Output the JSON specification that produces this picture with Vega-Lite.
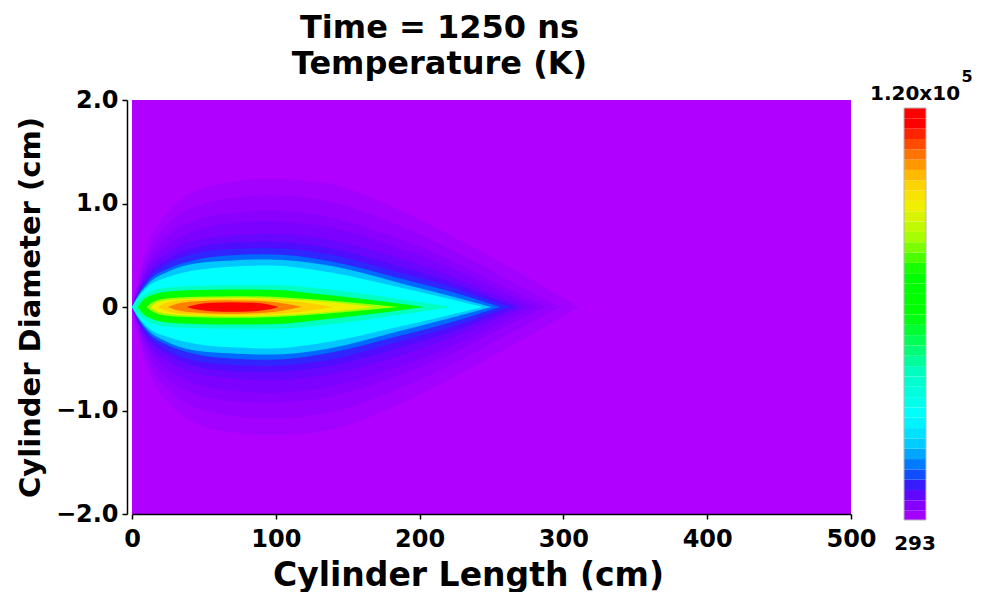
{
  "$schema": "https://vega.github.io/schema/vega-lite/v6.json",
  "background": "white",
  "padding": {"left": 15, "top": 12, "right": 5, "bottom": 0},
  "config": {
    "font": "DejaVu Sans",
    "view": {"stroke": null},
    "axis": {
      "labelFont": "DejaVu Sans", "labelFontWeight": "bold", "labelFontSize": 24, "labelColor": "black", "labelFlush": false,
      "titleFont": "DejaVu Sans", "titleFontWeight": "bold", "titleColor": "black",
      "domainColor": "black", "tickColor": "black", "domainWidth": 1.5, "tickWidth": 1.5, "tickSize": 5, "grid": false
    }
  },
  "datasets": {
    "plume": [
      {"l":1,"T":1729,"x":0,"hi":0,"lo":0},{"l":1,"T":1729,"x":3,"hi":0.2,"lo":-0.2},{"l":1,"T":1729,"x":11,"hi":0.6,"lo":-0.6},{"l":1,"T":1729,"x":25,"hi":0.92,"lo":-0.92},{"l":1,"T":1729,"x":44,"hi":1.12,"lo":-1.12},{"l":1,"T":1729,"x":70,"hi":1.21,"lo":-1.21},{"l":1,"T":1729,"x":95,"hi":1.24,"lo":-1.24},{"l":1,"T":1729,"x":137,"hi":1.19,"lo":-1.19},{"l":1,"T":1729,"x":184,"hi":0.95,"lo":-0.95},{"l":1,"T":1729,"x":230,"hi":0.63,"lo":-0.63},{"l":1,"T":1729,"x":276,"hi":0.28,"lo":-0.28},{"l":1,"T":1729,"x":311,"hi":0,"lo":0},
      {"l":2,"T":2927,"x":0,"hi":0,"lo":0},{"l":2,"T":2927,"x":3,"hi":0.17,"lo":-0.17},{"l":2,"T":2927,"x":11,"hi":0.52,"lo":-0.52},{"l":2,"T":2927,"x":25,"hi":0.8,"lo":-0.8},{"l":2,"T":2927,"x":44,"hi":0.97,"lo":-0.97},{"l":2,"T":2927,"x":70,"hi":1.05,"lo":-1.05},{"l":2,"T":2927,"x":95,"hi":1.08,"lo":-1.08},{"l":2,"T":2927,"x":137,"hi":1.02,"lo":-1.02},{"l":2,"T":2927,"x":184,"hi":0.8,"lo":-0.8},{"l":2,"T":2927,"x":230,"hi":0.5,"lo":-0.5},{"l":2,"T":2927,"x":270,"hi":0.2,"lo":-0.2},{"l":2,"T":2927,"x":298,"hi":0,"lo":0},
      {"l":3,"T":4124,"x":0,"hi":0,"lo":0},{"l":3,"T":4124,"x":3,"hi":0.15,"lo":-0.15},{"l":3,"T":4124,"x":11,"hi":0.45,"lo":-0.45},{"l":3,"T":4124,"x":25,"hi":0.69,"lo":-0.69},{"l":3,"T":4124,"x":44,"hi":0.84,"lo":-0.84},{"l":3,"T":4124,"x":70,"hi":0.91,"lo":-0.91},{"l":3,"T":4124,"x":95,"hi":0.93,"lo":-0.93},{"l":3,"T":4124,"x":137,"hi":0.87,"lo":-0.87},{"l":3,"T":4124,"x":184,"hi":0.67,"lo":-0.67},{"l":3,"T":4124,"x":230,"hi":0.4,"lo":-0.4},{"l":3,"T":4124,"x":265,"hi":0.15,"lo":-0.15},{"l":3,"T":4124,"x":288,"hi":0,"lo":0},
      {"l":4,"T":5321,"x":0,"hi":0,"lo":0},{"l":4,"T":5321,"x":3,"hi":0.13,"lo":-0.13},{"l":4,"T":5321,"x":11,"hi":0.39,"lo":-0.39},{"l":4,"T":5321,"x":25,"hi":0.6,"lo":-0.6},{"l":4,"T":5321,"x":44,"hi":0.74,"lo":-0.74},{"l":4,"T":5321,"x":70,"hi":0.81,"lo":-0.81},{"l":4,"T":5321,"x":95,"hi":0.83,"lo":-0.83},{"l":4,"T":5321,"x":137,"hi":0.77,"lo":-0.77},{"l":4,"T":5321,"x":184,"hi":0.58,"lo":-0.58},{"l":4,"T":5321,"x":230,"hi":0.33,"lo":-0.33},{"l":4,"T":5321,"x":260,"hi":0.13,"lo":-0.13},{"l":4,"T":5321,"x":280,"hi":0,"lo":0},
      {"l":5,"T":6877,"x":0,"hi":0,"lo":0},{"l":5,"T":6877,"x":3,"hi":0.11,"lo":-0.11},{"l":5,"T":6877,"x":11,"hi":0.34,"lo":-0.34},{"l":5,"T":6877,"x":25,"hi":0.52,"lo":-0.52},{"l":5,"T":6877,"x":44,"hi":0.64,"lo":-0.64},{"l":5,"T":6877,"x":70,"hi":0.69,"lo":-0.69},{"l":5,"T":6877,"x":95,"hi":0.71,"lo":-0.71},{"l":5,"T":6877,"x":137,"hi":0.65,"lo":-0.65},{"l":5,"T":6877,"x":184,"hi":0.48,"lo":-0.48},{"l":5,"T":6877,"x":230,"hi":0.25,"lo":-0.25},{"l":5,"T":6877,"x":255,"hi":0.1,"lo":-0.1},{"l":5,"T":6877,"x":273,"hi":0,"lo":0},
      {"l":6,"T":8672,"x":0,"hi":0,"lo":0},{"l":6,"T":8672,"x":3,"hi":0.1,"lo":-0.1},{"l":6,"T":8672,"x":11,"hi":0.3,"lo":-0.3},{"l":6,"T":8672,"x":25,"hi":0.46,"lo":-0.46},{"l":6,"T":8672,"x":44,"hi":0.57,"lo":-0.57},{"l":6,"T":8672,"x":70,"hi":0.62,"lo":-0.62},{"l":6,"T":8672,"x":95,"hi":0.63,"lo":-0.63},{"l":6,"T":8672,"x":137,"hi":0.57,"lo":-0.57},{"l":6,"T":8672,"x":184,"hi":0.4,"lo":-0.4},{"l":6,"T":8672,"x":230,"hi":0.2,"lo":-0.2},{"l":6,"T":8672,"x":250,"hi":0.09,"lo":-0.09},{"l":6,"T":8672,"x":268,"hi":0,"lo":0},
      {"l":7,"T":11067,"x":0,"hi":0,"lo":0},{"l":7,"T":11067,"x":3,"hi":0.094,"lo":-0.094},{"l":7,"T":11067,"x":11,"hi":0.27,"lo":-0.27},{"l":7,"T":11067,"x":25,"hi":0.42,"lo":-0.42},{"l":7,"T":11067,"x":44,"hi":0.52,"lo":-0.52},{"l":7,"T":11067,"x":70,"hi":0.56,"lo":-0.56},{"l":7,"T":11067,"x":95,"hi":0.57,"lo":-0.57},{"l":7,"T":11067,"x":137,"hi":0.51,"lo":-0.51},{"l":7,"T":11067,"x":184,"hi":0.34,"lo":-0.34},{"l":7,"T":11067,"x":230,"hi":0.16,"lo":-0.16},{"l":7,"T":11067,"x":250,"hi":0.06,"lo":-0.06},{"l":7,"T":11067,"x":263,"hi":0,"lo":0},
      {"l":8,"T":15256,"x":0,"hi":0,"lo":0},{"l":8,"T":15256,"x":3,"hi":0.085,"lo":-0.085},{"l":8,"T":15256,"x":11,"hi":0.245,"lo":-0.245},{"l":8,"T":15256,"x":25,"hi":0.37,"lo":-0.37},{"l":8,"T":15256,"x":44,"hi":0.455,"lo":-0.455},{"l":8,"T":15256,"x":70,"hi":0.5,"lo":-0.5},{"l":8,"T":15256,"x":95,"hi":0.51,"lo":-0.51},{"l":8,"T":15256,"x":137,"hi":0.445,"lo":-0.445},{"l":8,"T":15256,"x":184,"hi":0.285,"lo":-0.285},{"l":8,"T":15256,"x":230,"hi":0.115,"lo":-0.115},{"l":8,"T":15256,"x":256,"hi":0,"lo":0},
      {"l":9,"T":21840,"x":0,"hi":0,"lo":0},{"l":9,"T":21840,"x":3,"hi":0.077,"lo":-0.077},{"l":9,"T":21840,"x":11,"hi":0.22,"lo":-0.22},{"l":9,"T":21840,"x":25,"hi":0.34,"lo":-0.34},{"l":9,"T":21840,"x":44,"hi":0.42,"lo":-0.42},{"l":9,"T":21840,"x":70,"hi":0.45,"lo":-0.45},{"l":9,"T":21840,"x":95,"hi":0.46,"lo":-0.46},{"l":9,"T":21840,"x":137,"hi":0.4,"lo":-0.4},{"l":9,"T":21840,"x":184,"hi":0.24,"lo":-0.24},{"l":9,"T":21840,"x":220,"hi":0.11,"lo":-0.11},{"l":9,"T":21840,"x":250,"hi":0,"lo":0},
      {"l":10,"T":30220,"x":0,"hi":0,"lo":0},{"l":10,"T":30220,"x":3,"hi":0.07,"lo":-0.07},{"l":10,"T":30220,"x":11,"hi":0.195,"lo":-0.195},{"l":10,"T":30220,"x":25,"hi":0.29,"lo":-0.29},{"l":10,"T":30220,"x":44,"hi":0.355,"lo":-0.355},{"l":10,"T":30220,"x":70,"hi":0.39,"lo":-0.39},{"l":10,"T":30220,"x":95,"hi":0.4,"lo":-0.4},{"l":10,"T":30220,"x":137,"hi":0.335,"lo":-0.335},{"l":10,"T":30220,"x":184,"hi":0.195,"lo":-0.195},{"l":10,"T":30220,"x":215,"hi":0.097,"lo":-0.097},{"l":10,"T":30220,"x":244,"hi":0,"lo":0},
      {"l":11,"T":43388,"x":0,"hi":0,"lo":0},{"l":11,"T":43388,"x":4,"hi":0.06,"lo":-0.06},{"l":11,"T":43388,"x":10,"hi":0.13,"lo":-0.13},{"l":11,"T":43388,"x":20,"hi":0.18,"lo":-0.18},{"l":11,"T":43388,"x":40,"hi":0.2,"lo":-0.2},{"l":11,"T":43388,"x":70,"hi":0.21,"lo":-0.21},{"l":11,"T":43388,"x":100,"hi":0.21,"lo":-0.21},{"l":11,"T":43388,"x":137,"hi":0.17,"lo":-0.17},{"l":11,"T":43388,"x":184,"hi":0.08,"lo":-0.08},{"l":11,"T":43388,"x":222,"hi":0,"lo":0},
      {"l":12,"T":60146,"x":4,"hi":0,"lo":0},{"l":12,"T":60146,"x":8,"hi":0.07,"lo":-0.07},{"l":12,"T":60146,"x":15,"hi":0.12,"lo":-0.12},{"l":12,"T":60146,"x":25,"hi":0.15,"lo":-0.15},{"l":12,"T":60146,"x":45,"hi":0.165,"lo":-0.165},{"l":12,"T":60146,"x":70,"hi":0.17,"lo":-0.17},{"l":12,"T":60146,"x":100,"hi":0.165,"lo":-0.165},{"l":12,"T":60146,"x":130,"hi":0.125,"lo":-0.125},{"l":12,"T":60146,"x":165,"hi":0.07,"lo":-0.07},{"l":12,"T":60146,"x":188,"hi":0.03,"lo":-0.03},{"l":12,"T":60146,"x":203,"hi":0,"lo":0},
      {"l":13,"T":81694,"x":10,"hi":0,"lo":0},{"l":13,"T":81694,"x":15,"hi":0.05,"lo":-0.05},{"l":13,"T":81694,"x":25,"hi":0.085,"lo":-0.085},{"l":13,"T":81694,"x":45,"hi":0.1,"lo":-0.1},{"l":13,"T":81694,"x":70,"hi":0.105,"lo":-0.105},{"l":13,"T":81694,"x":100,"hi":0.097,"lo":-0.097},{"l":13,"T":81694,"x":130,"hi":0.07,"lo":-0.07},{"l":13,"T":81694,"x":160,"hi":0.035,"lo":-0.035},{"l":13,"T":81694,"x":185,"hi":0,"lo":0},
      {"l":14,"T":91270,"x":13,"hi":0,"lo":0},{"l":14,"T":91270,"x":18,"hi":0.045,"lo":-0.045},{"l":14,"T":91270,"x":28,"hi":0.07,"lo":-0.07},{"l":14,"T":91270,"x":50,"hi":0.085,"lo":-0.085},{"l":14,"T":91270,"x":75,"hi":0.09,"lo":-0.09},{"l":14,"T":91270,"x":100,"hi":0.08,"lo":-0.08},{"l":14,"T":91270,"x":130,"hi":0.055,"lo":-0.055},{"l":14,"T":91270,"x":150,"hi":0.03,"lo":-0.03},{"l":14,"T":91270,"x":168,"hi":0,"lo":0},
      {"l":15,"T":98453,"x":18,"hi":0,"lo":0},{"l":15,"T":98453,"x":25,"hi":0.045,"lo":-0.045},{"l":15,"T":98453,"x":40,"hi":0.07,"lo":-0.07},{"l":15,"T":98453,"x":65,"hi":0.078,"lo":-0.078},{"l":15,"T":98453,"x":90,"hi":0.072,"lo":-0.072},{"l":15,"T":98453,"x":115,"hi":0.05,"lo":-0.05},{"l":15,"T":98453,"x":140,"hi":0,"lo":0},
      {"l":16,"T":105635,"x":25,"hi":0,"lo":0},{"l":16,"T":105635,"x":32,"hi":0.035,"lo":-0.035},{"l":16,"T":105635,"x":45,"hi":0.055,"lo":-0.055},{"l":16,"T":105635,"x":65,"hi":0.065,"lo":-0.065},{"l":16,"T":105635,"x":85,"hi":0.06,"lo":-0.06},{"l":16,"T":105635,"x":100,"hi":0.045,"lo":-0.045},{"l":16,"T":105635,"x":118,"hi":0,"lo":0},
      {"l":17,"T":115210,"x":38,"hi":0,"lo":0},{"l":17,"T":115210,"x":45,"hi":0.025,"lo":-0.025},{"l":17,"T":115210,"x":55,"hi":0.04,"lo":-0.04},{"l":17,"T":115210,"x":70,"hi":0.045,"lo":-0.045},{"l":17,"T":115210,"x":85,"hi":0.04,"lo":-0.04},{"l":17,"T":115210,"x":95,"hi":0.025,"lo":-0.025},{"l":17,"T":115210,"x":102,"hi":0,"lo":0}
    ],
    "cbar": [
      {"lo":293,"hi":3000,"T":1646},{"lo":3000,"hi":6000,"T":4500},{"lo":6000,"hi":9000,"T":7500},{"lo":9000,"hi":12000,"T":10500},{"lo":12000,"hi":15000,"T":13500},{"lo":15000,"hi":18000,"T":16500},{"lo":18000,"hi":21000,"T":19500},{"lo":21000,"hi":24000,"T":22500},{"lo":24000,"hi":27000,"T":25500},{"lo":27000,"hi":30000,"T":28500},
      {"lo":30000,"hi":33000,"T":31500},{"lo":33000,"hi":36000,"T":34500},{"lo":36000,"hi":39000,"T":37500},{"lo":39000,"hi":42000,"T":40500},{"lo":42000,"hi":45000,"T":43500},{"lo":45000,"hi":48000,"T":46500},{"lo":48000,"hi":51000,"T":49500},{"lo":51000,"hi":54000,"T":52500},{"lo":54000,"hi":57000,"T":55500},{"lo":57000,"hi":60000,"T":58500},
      {"lo":60000,"hi":63000,"T":61500},{"lo":63000,"hi":66000,"T":64500},{"lo":66000,"hi":69000,"T":67500},{"lo":69000,"hi":72000,"T":70500},{"lo":72000,"hi":75000,"T":73500},{"lo":75000,"hi":78000,"T":76500},{"lo":78000,"hi":81000,"T":79500},{"lo":81000,"hi":84000,"T":82500},{"lo":84000,"hi":87000,"T":85500},{"lo":87000,"hi":90000,"T":88500},
      {"lo":90000,"hi":93000,"T":91500},{"lo":93000,"hi":96000,"T":94500},{"lo":96000,"hi":99000,"T":97500},{"lo":99000,"hi":102000,"T":100500},{"lo":102000,"hi":105000,"T":103500},{"lo":105000,"hi":108000,"T":106500},{"lo":108000,"hi":111000,"T":109500},{"lo":111000,"hi":114000,"T":112500},{"lo":114000,"hi":117000,"T":115500},{"lo":117000,"hi":120000,"T":118500}
    ],
    "cframe": [{"lo":293,"hi":120000}],
    "clabels": [{"T":120000,"txt":"1.20x10","exp":"5"},{"T":293,"txt":"293","exp":""}]
  },
  "bounds": "flush",
  "spacing": 53,
  "resolve": {"scale": {"color": "independent"}},
  "hconcat": [
    {
      "width": 719,
      "height": 414,
      "view": {"fill": "#b000ff", "stroke": null},
      "title": {"text": ["Time = 1250 ns", "Temperature (K)"], "font": "DejaVu Sans", "fontSize": 32, "fontWeight": "bold", "color": "black", "lineHeight": 36, "anchor": "middle", "dx": -52, "offset": 7},
      "data": {"name": "plume"},
      "mark": {"type": "area", "interpolate": "monotone"},
      "encoding": {
        "x": {"field": "x", "type": "quantitative", "scale": {"domain": [0, 500], "nice": false, "zero": false},
              "axis": {"values": [0, 100, 200, 300, 400, 500], "format": "d", "title": "Cylinder Length (cm)", "titleFontSize": 33, "titleX": 336, "titleY": 71, "titleBaseline": "alphabetic", "labelPadding": 8}},
        "y": {"field": "hi", "type": "quantitative", "scale": {"domain": [-2, 2], "nice": false},
              "axis": {"values": [-2, -1, 0, 1, 2], "labelExpr": "datum.value == 0 ? '0' : format(datum.value, '.1f')", "title": "Cylinder Diameter (cm)", "titleFontSize": 29, "titleX": -88, "titleBaseline": "alphabetic", "offset": 5, "labelPadding": 4}},
        "y2": {"field": "lo"},
        "color": {"field": "T", "type": "quantitative", "legend": null,
                  "scale": {"domain": [293, 5081, 9870, 14658, 21840, 30220, 43388, 54161, 60146, 72117, 81694, 91270, 98453, 105635, 111620, 115210, 120000],
                            "range": ["#b000ff", "#8000ff", "#4010ff", "#0060ff", "#00c8ff", "#00ffff", "#00ffc0", "#00ff40", "#00ff00", "#00ff00", "#a0ff00", "#f0f000", "#ffd000", "#ff8000", "#ff3000", "#ff0000", "#ff0000"],
                            "interpolate": "rgb"}},
        "detail": {"field": "l", "type": "nominal"}
      }
    },
    {
      "width": 22,
      "height": 420,
      "layer": [
        {
          "data": {"name": "cbar"},
          "mark": {"type": "rect"},
          "encoding": {
            "y": {"field": "lo", "type": "quantitative", "scale": {"domain": [293, 120000], "range": [420, 8], "nice": false, "zero": false}, "axis": null},
            "y2": {"field": "hi"},
            "color": {"field": "T", "type": "quantitative", "legend": null,
                      "scale": {"domain": [293, 5081, 9870, 14658, 21840, 30220, 43388, 54161, 60146, 72117, 81694, 91270, 98453, 105635, 111620, 115210, 120000],
                                "range": ["#b000ff", "#8000ff", "#4010ff", "#0060ff", "#00c8ff", "#00ffff", "#00ffc0", "#00ff40", "#00ff00", "#00ff00", "#a0ff00", "#f0f000", "#ffd000", "#ff8000", "#ff3000", "#ff0000", "#ff0000"],
                                "interpolate": "rgb"}}
          }
        },
        {
          "data": {"name": "cframe"},
          "mark": {"type": "rect", "fill": null, "stroke": "#b8b8b8", "strokeWidth": 1},
          "encoding": {"y": {"field": "lo", "type": "quantitative"}, "y2": {"field": "hi"}}
        },
        {
          "data": {"name": "clabels"},
          "transform": [{"filter": "datum.T > 1000"}],
          "mark": {"type": "text", "font": "DejaVu Sans", "fontWeight": "bold", "fontSize": 20, "baseline": "alphabetic", "align": "center", "dy": -8, "color": "black"},
          "encoding": {"y": {"field": "T", "type": "quantitative"}, "text": {"field": "txt"}}
        },
        {
          "data": {"name": "clabels"},
          "transform": [{"filter": "datum.T > 1000"}],
          "mark": {"type": "text", "font": "DejaVu Sans", "fontWeight": "bold", "fontSize": 16, "baseline": "alphabetic", "align": "center", "dx": 52, "dy": -26, "color": "black"},
          "encoding": {"y": {"field": "T", "type": "quantitative"}, "text": {"field": "exp"}}
        },
        {
          "data": {"name": "clabels"},
          "transform": [{"filter": "datum.T < 1000"}],
          "mark": {"type": "text", "font": "DejaVu Sans", "fontWeight": "bold", "fontSize": 20, "baseline": "alphabetic", "align": "center", "dy": 30, "color": "black"},
          "encoding": {"y": {"field": "T", "type": "quantitative"}, "text": {"field": "txt"}}
        }
      ]
    }
  ]
}
